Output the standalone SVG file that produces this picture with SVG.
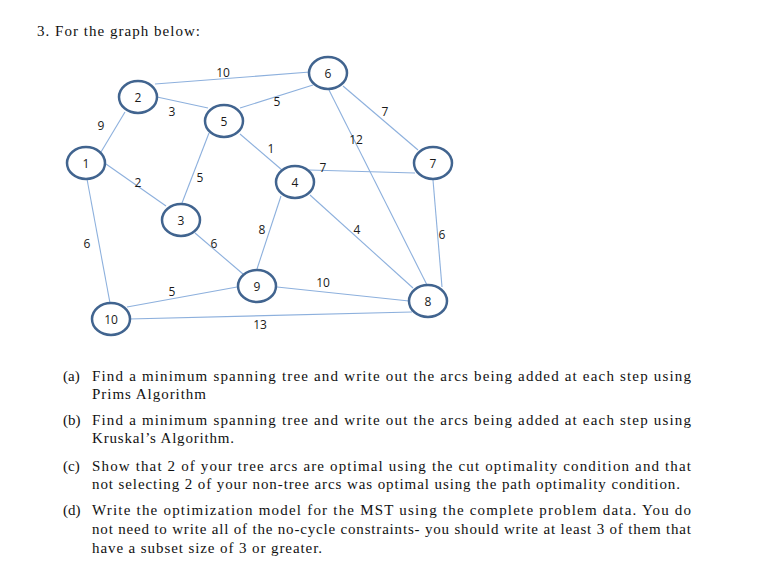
<svg xmlns="http://www.w3.org/2000/svg" width="765" height="564" viewBox="0 0 765 564">
<style>
.e{stroke:#8DB0DD;stroke-width:1.1;fill:none}
.n ellipse{fill:#fff;stroke:#41648F;stroke-width:2.5}
.n text,.l{font-family:"Open Sans","Liberation Sans",sans-serif;font-size:12px;fill:#1a1a1a;text-anchor:middle;dominant-baseline:central}
.t{font-family:"Liberation Serif","DejaVu Serif",serif;font-size:15px;fill:#111}
</style>
<rect width="765" height="564" fill="#fff"/>
<text class="t" x="37" y="36" textLength="163" lengthAdjust="spacing">3. For the graph below:</text>
<g id="connectors">
<line class="e" x1="155" y1="84" x2="310" y2="72"/>
<line class="e" x1="157" y1="97" x2="208" y2="108"/>
<line class="e" x1="240" y1="108" x2="313" y2="85"/>
<line class="e" x1="125" y1="112" x2="101" y2="152"/>
<line class="e" x1="209" y1="133" x2="182" y2="203"/>
<line class="e" x1="240" y1="134" x2="282" y2="170"/>
<line class="e" x1="106" y1="164" x2="166" y2="206"/>
<line class="e" x1="87" y1="179" x2="110" y2="303"/>
<line class="e" x1="195" y1="233" x2="243" y2="274"/>
<line class="e" x1="281" y1="196" x2="257" y2="269"/>
<line class="e" x1="309" y1="170" x2="415" y2="173"/>
<line class="e" x1="310" y1="195" x2="413" y2="288"/>
<line class="e" x1="343" y1="86" x2="418" y2="150"/>
<line class="e" x1="329" y1="90" x2="427" y2="285"/>
<line class="e" x1="433" y1="180" x2="442" y2="287"/>
<line class="e" x1="277" y1="287" x2="409" y2="301"/>
<line class="e" x1="127" y1="307" x2="237" y2="287"/>
<line class="e" x1="129" y1="319" x2="412" y2="312"/>
</g>
<g id="edge-labels">
<text class="l" x="223" y="72">10</text>
<text class="l" x="172" y="111">3</text>
<text class="l" x="101" y="125">9</text>
<text class="l" x="277" y="101">5</text>
<text class="l" x="271" y="148">1</text>
<text class="l" x="200" y="177">5</text>
<text class="l" x="138" y="182">2</text>
<text class="l" x="356" y="139">12</text>
<text class="l" x="385" y="111">7</text>
<text class="l" x="323" y="167">7</text>
<text class="l" x="87" y="243">6</text>
<text class="l" x="214" y="243">6</text>
<text class="l" x="262" y="229">8</text>
<text class="l" x="172" y="291">5</text>
<text class="l" x="260" y="324">13</text>
<text class="l" x="357" y="229">4</text>
<text class="l" x="442" y="234">6</text>
<text class="l" x="323" y="282">10</text>
</g>
<g id="node1" class="n"><ellipse cx="86" cy="163" rx="19" ry="16"/><text x="86" y="163">1</text></g>
<g id="node2" class="n"><ellipse cx="138" cy="97" rx="19" ry="16"/><text x="138" y="97">2</text></g>
<g id="node3" class="n"><ellipse cx="181" cy="220" rx="19" ry="16"/><text x="181" y="220">3</text></g>
<g id="node4" class="n"><ellipse cx="295" cy="182" rx="19" ry="16"/><text x="295" y="182">4</text></g>
<g id="node5" class="n"><ellipse cx="224" cy="121" rx="19" ry="16"/><text x="224" y="121">5</text></g>
<g id="node6" class="n"><ellipse cx="328" cy="73" rx="19" ry="16"/><text x="328" y="73">6</text></g>
<g id="node7" class="n"><ellipse cx="433" cy="163" rx="19" ry="16"/><text x="433" y="163">7</text></g>
<g id="node8" class="n"><ellipse cx="428" cy="301" rx="19" ry="16"/><text x="428" y="301">8</text></g>
<g id="node9" class="n"><ellipse cx="257" cy="286" rx="19" ry="16"/><text x="257" y="286">9</text></g>
<g id="node10" class="n"><ellipse cx="111" cy="319" rx="19" ry="16"/><text x="111" y="319">10</text></g>
<g id="questions">
<text class="t" x="63" y="381">(a)</text>
<text class="t" x="92" y="381" textLength="599" lengthAdjust="spacing">Find a minimum spanning tree and write out the arcs being added at each step using</text>
<text class="t" x="92" y="399" textLength="114" lengthAdjust="spacing">Prims Algorithm</text>
<text class="t" x="63" y="425">(b)</text>
<text class="t" x="92" y="425" textLength="599" lengthAdjust="spacing">Find a minimum spanning tree and write out the arcs being added at each step using</text>
<text class="t" x="92" y="443" textLength="142" lengthAdjust="spacing">Kruskal’s Algorithm.</text>
<text class="t" x="63" y="471">(c)</text>
<text class="t" x="92" y="471" textLength="599" lengthAdjust="spacing">Show that 2 of your tree arcs are optimal using the cut optimality condition and that</text>
<text class="t" x="92" y="489" textLength="588" lengthAdjust="spacing">not selecting 2 of your non-tree arcs was optimal using the path optimality condition.</text>
<text class="t" x="63" y="515">(d)</text>
<text class="t" x="92" y="515" textLength="599" lengthAdjust="spacing">Write the optimization model for the MST using the complete problem data.  You do</text>
<text class="t" x="92" y="534" textLength="599" lengthAdjust="spacing">not need to write all of the no-cycle constraints- you should write at least 3 of them that</text>
<text class="t" x="92" y="553" textLength="230" lengthAdjust="spacing">have a subset size of 3 or greater.</text>
</g>
</svg>
